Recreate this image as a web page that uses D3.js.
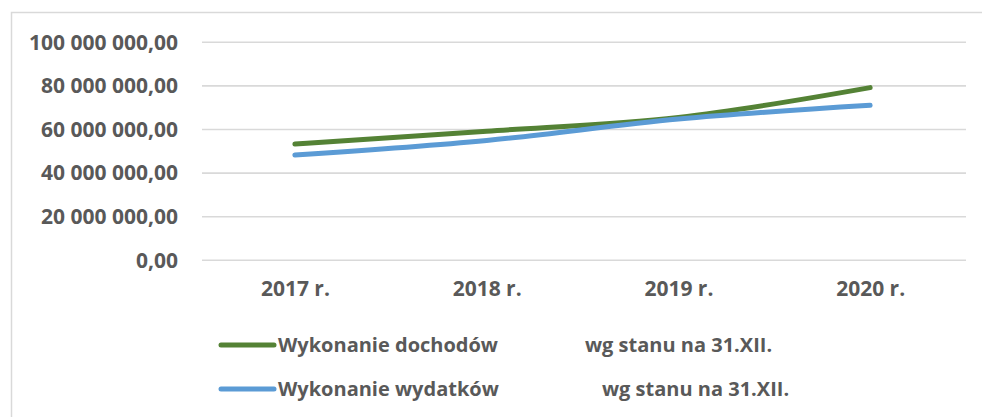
<!DOCTYPE html>
<html>
<head>
<meta charset="utf-8">
<script src="https://cdn.jsdelivr.net/npm/d3@7"></script>
<style>
  body { margin: 0; background: #fff; }
  text { font-family: "Open Sans", sans-serif; font-weight: bold; fill: #595959; }
</style>
</head>
<body>
<script>
// data
var years = ["2017 r.", "2018 r.", "2019 r.", "2020 r."];
var dochody = [53300000, 59200000, 65500000, 79200000];
var wydatki = [48300000, 55000000, 64800000, 71100000];
var yTicks = [0, 20000000, 40000000, 60000000, 80000000, 100000000];
var seriesNames = ["Wykonanie dochodów", "Wykonanie wydatków"];
var seriesSuffix = ["wg stanu na 31.XII.", "wg stanu na 31.XII."];
var seriesColors = ["#548235", "#5b9bd5"];

var width = 982,
    height = 417;

var svg = d3.select("body")
    .append("svg")
    .attr("width", width)
    .attr("height", height);

// chart frame (only top and left edges are in view)
svg.append("rect")
    .attr("x", 11.5)
    .attr("y", 12.5)
    .attr("width", 1000)
    .attr("height", 420)
    .attr("fill", "none")
    .attr("stroke", "#d9d9d9")
    .attr("stroke-width", 1.5);

var x = d3.scalePoint()
    .domain(years)
    .range([199, 966])
    .padding(0.5);

var y = d3.scaleLinear()
    .domain([0, 100000000])
    .range([260.3, 42.3]);

// polish number format: space thousands, comma decimal
var plFormat = d3.formatLocale({decimal: ",", thousands: " ", grouping: [3], currency: ["", " zł"]}).format(",.2f");

// gridlines
svg.append("g")
    .attr("class", "grid")
    .selectAll("line")
    .data(yTicks)
    .enter()
    .append("line")
    .attr("x1", 202)
    .attr("x2", 966)
    .attr("y1", function(d){ return y(d); })
    .attr("y2", function(d){ return y(d); })
    .attr("stroke", "#d9d9d9")
    .attr("stroke-width", 1.6);

// y axis
var yAxis = d3.axisLeft(y)
    .tickValues(yTicks)
    .tickFormat(plFormat)
    .tickSize(0)
    .tickPadding(0);

var gy = svg.append("g")
    .attr("transform", "translate(178,0)")
    .call(yAxis);
gy.select(".domain").remove();
gy.selectAll("text")
    .attr("fill", "#595959")
    .style("font-size", "21px");

// x axis
var xAxis = d3.axisBottom(x)
    .tickSize(0)
    .tickPadding(0);

var gx = svg.append("g")
    .attr("transform", "translate(0,281)")
    .call(xAxis);
gx.select(".domain").remove();
gx.selectAll("text")
    .attr("fill", "#595959")
    .style("font-size", "21px");

// lines
var line = d3.line()
    .x(function(d, i){ return x(years[i]); })
    .y(function(d){ return y(d); })
    .curve(d3.curveMonotoneX);

svg.selectAll(".series")
    .data([dochody, wydatki])
    .enter()
    .append("path")
    .attr("class", "series")
    .attr("d", line)
    .attr("fill", "none")
    .attr("stroke", function(d, i){ return seriesColors[i]; })
    .attr("stroke-width", 5)
    .attr("stroke-linecap", "round")
    .attr("stroke-linejoin", "round");

// legend
var legend = svg.selectAll(".legend")
    .data(seriesNames)
    .enter()
    .append("g")
    .attr("class", "legend")
    .attr("transform", function(d, i){ return "translate(0," + (345 + i * 44) + ")"; });

legend.append("line")
    .attr("x1", 221)
    .attr("x2", 274)
    .attr("stroke", function(d, i){ return seriesColors[i]; })
    .attr("stroke-width", 5)
    .attr("stroke-linecap", "round");

legend.append("text")
    .attr("x", 278)
    .attr("dy", "0.35em")
    .style("font-size", "20px")
    .text(function(d){ return d; });

legend.append("text")
    .attr("x", function(d, i){ return i == 0 ? 585 : 602; })
    .attr("dy", "0.35em")
    .style("font-size", "20px")
    .text(function(d, i){ return seriesSuffix[i]; });
</script>
</body>
</html>
